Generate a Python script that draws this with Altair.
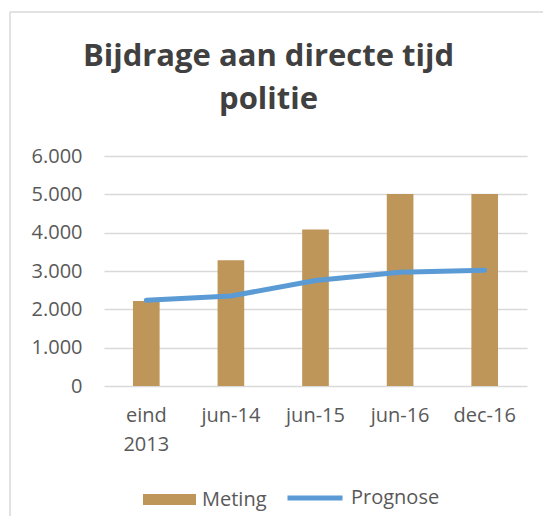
import altair as alt
import pandas as pd

categories = ["eind 2013", "jun-14", "jun-15", "jun-16", "dec-16"]
meting = [2220, 3280, 4080, 5010, 5010]
prognose = [2240, 2350, 2750, 2970, 3020]
bar_name, bar_color = "Meting", "#BE9659"
line_name, line_color = "Prognose", "#5B9BD5"

rows = []
for c, v in zip(categories, meting):
    rows.append({"cat": c, "value": v, "reeks": bar_name})
for c, v in zip(categories, prognose):
    rows.append({"cat": c, "value": v, "reeks": line_name})
df = pd.DataFrame(rows)

W, H = 423, 230
FONT = "Open Sans"

xenc = alt.X(
    "cat:N",
    sort=categories,
    scale=alt.Scale(paddingInner=0.685, paddingOuter=0.3425),
    axis=alt.Axis(
        title=None, labelAngle=0, labelFontSize=20, labelFont=FONT,
        labelColor="#595959", ticks=False, domain=False, labelPadding=19,
        labelLineHeight=29,
        labelExpr="datum.value == 'eind 2013' ? ['eind', '2013'] : datum.value",
    ),
)
yenc = alt.Y(
    "value:Q",
    scale=alt.Scale(domain=[0, 6000]),
    axis=alt.Axis(
        title=None, values=[0, 1000, 2000, 3000, 4000, 5000, 6000],
        labelExpr="replace(format(datum.value, ','), ',', '.')",
        labelFontSize=20, labelFont=FONT, labelColor="#595959",
        ticks=False, domain=False, labelPadding=22,
        gridColor="#D9D9D9", gridWidth=1.3,
    ),
)

common_legend = dict(
    title=None, orient="none", direction="horizontal", padding=0,
    labelFontSize=20, labelFont=FONT, labelColor="#595959", labelOffset=6,
)
fill_enc = alt.Fill(
    "reeks:N", scale=alt.Scale(domain=[bar_name], range=[bar_color]),
    legend=alt.Legend(legendX=39, legendY=317, symbolSize=2809,
                      symbolType="M-1,-0.21H1V0.21H-1Z", symbolStrokeWidth=0,
                      **common_legend),
)
stroke_enc = alt.Stroke(
    "reeks:N", scale=alt.Scale(domain=[line_name], range=[line_color]),
    legend=alt.Legend(legendX=181, legendY=312, symbolSize=3025,
                      symbolType="stroke", symbolStrokeWidth=5,
                      **common_legend),
)

bars = alt.Chart(df).transform_filter(f"datum.reeks == '{bar_name}'").mark_bar().encode(
    x=xenc, y=yenc, fill=fill_enc
)
line = alt.Chart(df).transform_filter(f"datum.reeks == '{line_name}'").mark_line(
    strokeWidth=5, strokeCap="round", strokeJoin="round"
).encode(x=xenc, y=yenc, stroke=stroke_enc)

border_data = alt.Data(values=[{"k": 1}])
left_border = alt.Chart(border_data).mark_rule(color="#D9D9D9", strokeWidth=1.5).encode(
    x=alt.value(-94), y=alt.value(-144), y2=alt.value(H + 130)
)
top_border = alt.Chart(border_data).mark_rule(color="#D9D9D9", strokeWidth=1.5).encode(
    x=alt.value(-94), x2=alt.value(W + 16), y=alt.value(-144)
)

chart = alt.layer(left_border, top_border, bars, line).properties(
    width=W, height=H,
    autosize=alt.AutoSizeParams(type="none"),
    padding={"left": 96, "top": 148, "right": 16, "bottom": 130},
    title=alt.TitleParams(
        text=["Bijdrage aan directe tijd", "politie"],
        fontSize=31, fontWeight="bold", font=FONT, color="#404040",
        anchor="middle", dx=-47, offset=-105, lineHeight=43,
    ),
).resolve_scale(fill="independent", stroke="independent").configure_view(stroke=None)

chart.save("out.html", embed_options={"renderer": "svg", "actions": False})
